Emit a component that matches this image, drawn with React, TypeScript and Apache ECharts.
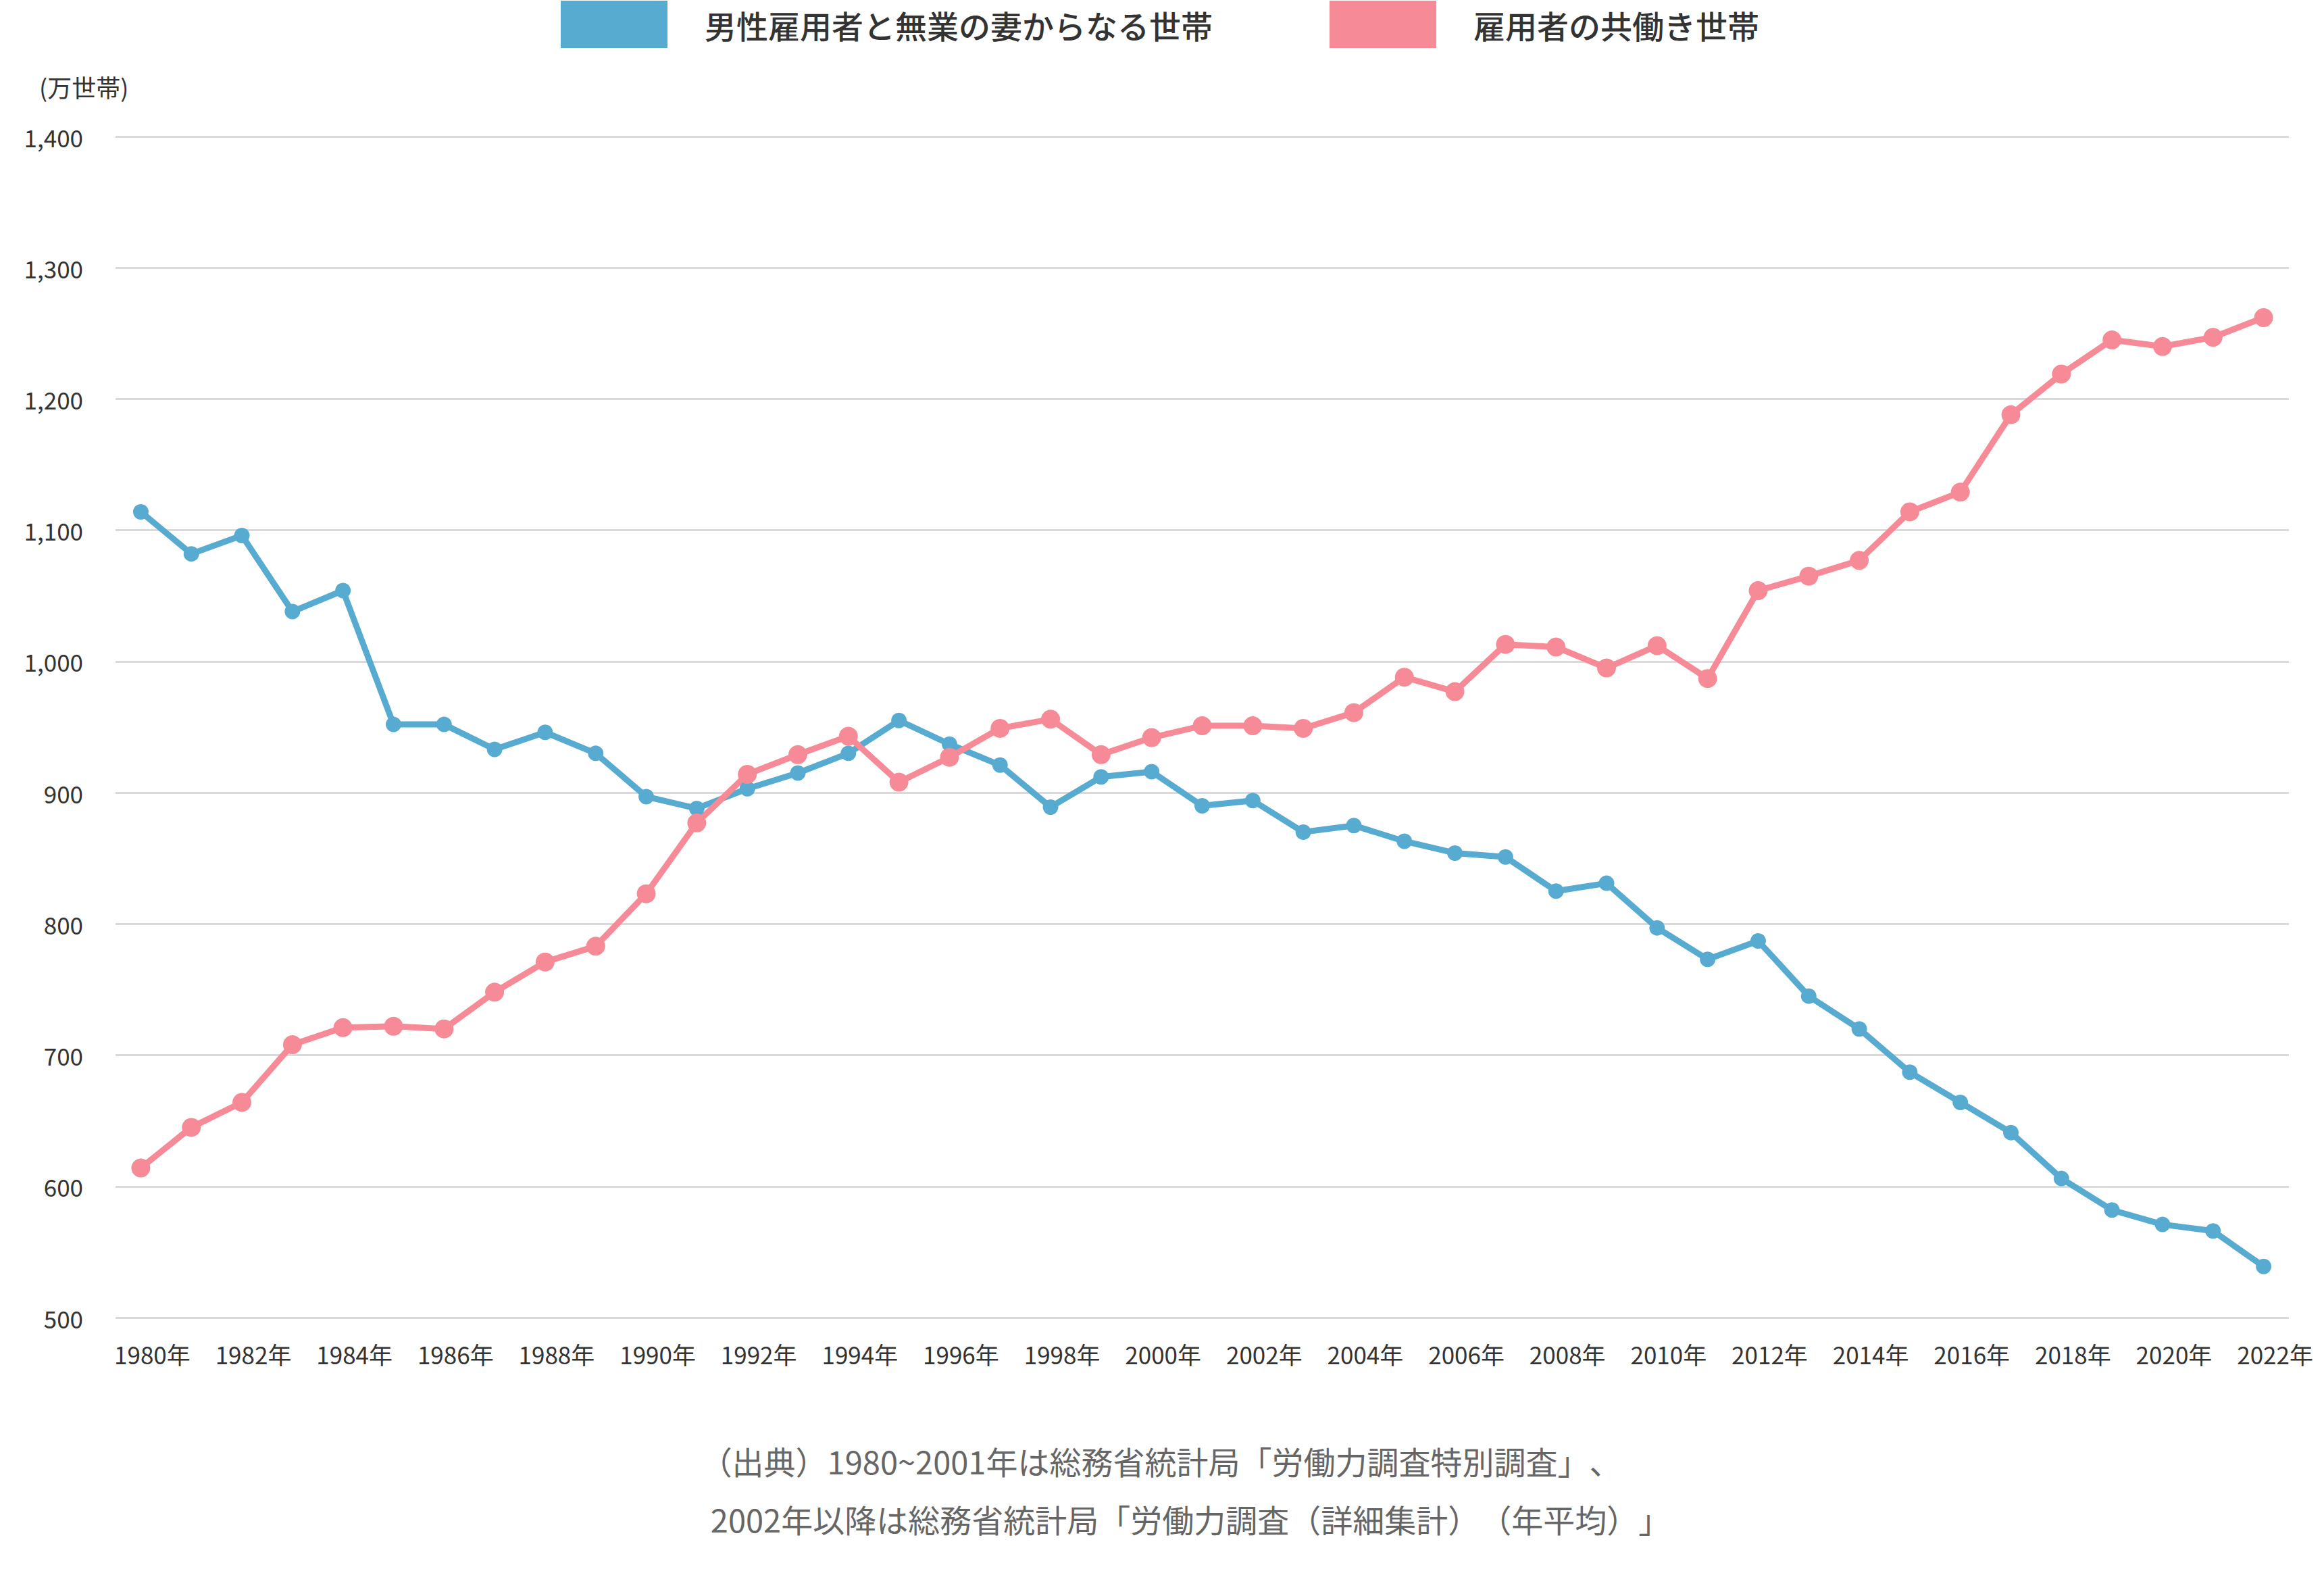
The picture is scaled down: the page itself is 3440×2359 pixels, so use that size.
import React, { useEffect, useRef } from "react";
import * as echarts from "echarts";

const years: string[] = [
  "1980年","1981年","1982年","1983年","1984年","1985年","1986年","1987年","1988年","1989年",
  "1990年","1991年","1992年","1993年","1994年","1995年","1996年","1997年","1998年","1999年",
  "2000年","2001年","2002年","2003年","2004年","2005年","2006年","2007年","2008年","2009年",
  "2010年","2011年","2012年","2013年","2014年","2015年","2016年","2017年","2018年","2019年",
  "2020年","2021年","2022年",
];

const singleIncome: number[] = [
  1114, 1082, 1096, 1038, 1054, 952, 952, 933, 946, 930,
  897, 888, 903, 915, 930, 955, 937, 921, 889, 912,
  916, 890, 894, 870, 875, 863, 854, 851, 825, 831,
  797, 773, 787, 745, 720, 687, 664, 641, 606, 582,
  571, 566, 539,
];

const dualIncome: number[] = [
  614, 645, 664, 708, 721, 722, 720, 748, 771, 783,
  823, 877, 914, 929, 943, 908, 927, 949, 956, 929,
  942, 951, 951, 949, 961, 988, 977, 1013, 1011, 995,
  1012, 987, 1054, 1065, 1077, 1114, 1129, 1188, 1219, 1245,
  1240, 1247, 1262,
];

const seriesNames: string[] = ["男性雇用者と無業の妻からなる世帯", "雇用者の共働き世帯"];
const unitLabel = "(万世帯)";
const sourceLines: string[] = [
  "（出典）1980~2001年は総務省統計局「労働力調査特別調査」、",
  "2002年以降は総務省統計局「労働力調査（詳細集計）（年平均）」",
];

const BLUE = "#58abd0";
const PINK = "#f68a96";
const FONT = "'Noto Sans CJK JP', 'Noto Sans', sans-serif";

export default function App() {
  const ref = useRef<HTMLDivElement>(null);

  useEffect(() => {
    document.body.style.margin = "0";
    if (!ref.current) return;
    const chart = echarts.init(ref.current, undefined, { renderer: "svg" });
    chart.setOption({
      animation: false,
      backgroundColor: "#ffffff",
      textStyle: { fontFamily: FONT },
      legend: {
        top: -4,
        left: 825,
        itemWidth: 158,
        itemHeight: 70,
        itemGap: 173,
        icon: "rect",
        data: seriesNames,
        textStyle: {
          fontSize: 47,
          color: "#333333",
          fontWeight: 500,
          fontFamily: FONT,
          padding: [0, 0, 0, 50],
        },
      },
      grid: { left: 171, right: 52, top: 202, bottom: 409 },
      xAxis: {
        type: "category",
        data: years,
        boundaryGap: true,
        axisLine: { show: false },
        axisTick: { show: false },
        axisLabel: {
          interval: 1,
          fontSize: 35,
          color: "#333333",
          fontFamily: FONT,
          margin: 36,
          padding: [0, 0, 0, 34],
        },
      },
      yAxis: {
        type: "value",
        min: 500,
        max: 1400,
        interval: 100,
        axisLine: { show: false },
        axisTick: { show: false },
        axisLabel: {
          fontSize: 35,
          color: "#333333",
          fontFamily: FONT,
          margin: 48,
          formatter: (v: number) => v.toLocaleString("en-US"),
        },
        splitLine: { lineStyle: { color: "#dadada", width: 3 } },
      },
      graphic: [
        {
          type: "text",
          left: 58,
          top: 110,
          style: { text: unitLabel, fontSize: 36, fill: "#333333", fontFamily: FONT },
        },
        {
          type: "text",
          x: 1718,
          y: 2161,
          style: {
            text: sourceLines[0],
            fontSize: 47,
            fill: "#666666",
            fontFamily: FONT,
            textAlign: "center",
            textVerticalAlign: "middle",
          },
        },
        {
          type: "text",
          x: 1762,
          y: 2247,
          style: {
            text: sourceLines[1],
            fontSize: 47,
            fill: "#666666",
            fontFamily: FONT,
            textAlign: "center",
            textVerticalAlign: "middle",
          },
        },
      ],
      series: [
        {
          name: seriesNames[0],
          type: "line",
          data: singleIncome,
          color: BLUE,
          symbol: "circle",
          symbolSize: 23,
          showSymbol: true,
          lineStyle: { width: 9, color: BLUE },
          itemStyle: { color: BLUE },
        },
        {
          name: seriesNames[1],
          type: "line",
          data: dualIncome,
          color: PINK,
          symbol: "circle",
          symbolSize: 28,
          showSymbol: true,
          lineStyle: { width: 9, color: PINK },
          itemStyle: { color: PINK },
        },
      ],
    });
    return () => chart.dispose();
  }, []);

  return (
    <div
      ref={ref}
      style={{ width: 3440, height: 2359, textSpacingTrim: "space-all" } as any}
    />
  );
}
